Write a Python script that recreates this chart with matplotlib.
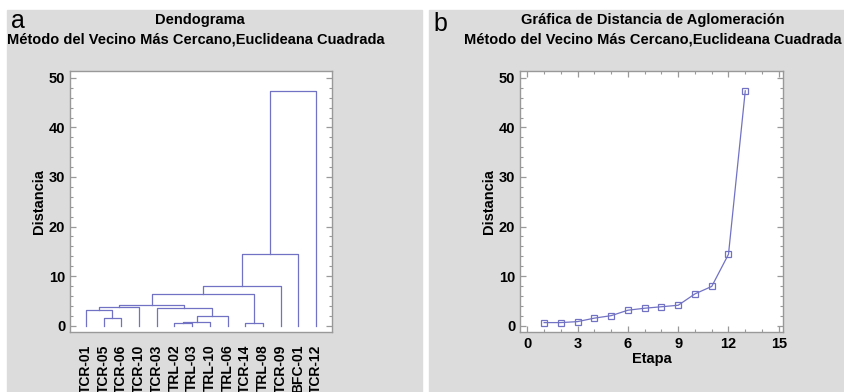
import numpy as np
import matplotlib
matplotlib.use("Agg")
import matplotlib.pyplot as plt
from matplotlib.patches import Rectangle
from matplotlib.ticker import MultipleLocator

plt.rcParams['font.family'] = ['Liberation Sans', 'DejaVu Sans']

# leaves in dendrogram order
leaf_labels = ['TCR-01', 'TCR-05', 'TCR-06', 'TCR-10', 'TCR-03', 'TRL-02', 'TRL-03',
               'TRL-10', 'TRL-06', 'TCR-14', 'TRL-08', 'TCR-09', 'BFC-01', 'TCR-12']
# merges: node ids < 14 are leaves, 14+ are clusters formed in order
merge_left = [5, 9, 14, 1, 16, 0, 4, 19, 21, 22, 23, 24, 25]
merge_right = [6, 10, 7, 2, 8, 17, 18, 3, 20, 15, 11, 12, 13]
distances = [0.6, 0.6, 0.8, 1.5, 2.0, 3.1, 3.5, 3.8, 4.1, 6.4, 7.9, 14.4, 47.4]
stages = np.arange(1, len(distances) + 1)

line_col = '#7272c4'
spine_col = '#999999'
bg_col = '#dcdcdc'

fig = plt.figure(figsize=(8.45, 3.92), dpi=100)
fig.patch.set_facecolor('white')
W, H = 845.0, 392.0
fig.patches.append(Rectangle((7 / W, 0), (422 - 7) / W, (392 - 10) / H,
                             transform=fig.transFigure, color=bg_col, zorder=-10))
fig.patches.append(Rectangle((429 / W, 0), (845 - 429) / W, (392 - 10) / H,
                             transform=fig.transFigure, color=bg_col, zorder=-10))


def style_axis(ax):
    for s in ax.spines.values():
        s.set_color(spine_col)
        s.set_linewidth(1.0)
    ax.tick_params(which='both', direction='in', color=spine_col, labelsize=10.5)
    ax.tick_params(which='major', length=4, width=0.9)
    ax.tick_params(which='minor', length=2.5, width=0.8)
    for t in ax.get_yticklabels() + ax.get_xticklabels():
        t.set_fontweight('bold')


# panel a: dendrogram
ax1 = fig.add_axes([70 / W, 1 - 332 / H, 262 / W, 261 / H])
xpos = {i: float(i + 1) for i in range(len(leaf_labels))}
ypos = {i: 0.0 for i in range(len(leaf_labels))}
for k, (a, b, h) in enumerate(zip(merge_left, merge_right, distances)):
    xa, xb = xpos[a], xpos[b]
    ax1.plot([xa, xa, xb, xb], [ypos[a], h, h, ypos[b]], color=line_col, lw=0.9)
    node = len(leaf_labels) + k
    xpos[node] = (xa + xb) / 2
    ypos[node] = h
ax1.set_xlim(0.1, 14.9)
ax1.set_ylim(-1.3, 51.4)
ax1.yaxis.set_major_locator(MultipleLocator(10))
ax1.yaxis.set_minor_locator(MultipleLocator(2))
ax1.set_xticks(np.arange(1, len(leaf_labels) + 1))
ax1.tick_params(axis='y', which='both', left=True, right=True)
style_axis(ax1)
ax1.set_xticklabels(leaf_labels, rotation=90, fontweight='bold', fontsize=10)
ax1.tick_params(axis='x', which='both', bottom=False, top=False, pad=9)
ax1.set_ylabel('Distancia', fontweight='bold', fontsize=10.5, labelpad=2)

# panel b: agglomeration distance
ax2 = fig.add_axes([520 / W, 1 - 332 / H, 263.3 / W, 261 / H])
ax2.plot(stages, distances, color=line_col, lw=0.9, marker='s', markersize=4.5,
         markerfacecolor='none', markeredgecolor=line_col, markeredgewidth=0.9)
ax2.set_xlim(-0.44, 15.27)
ax2.set_ylim(-1.3, 51.4)
ax2.xaxis.set_major_locator(MultipleLocator(3))
ax2.xaxis.set_minor_locator(MultipleLocator(1))
ax2.yaxis.set_major_locator(MultipleLocator(10))
ax2.yaxis.set_minor_locator(MultipleLocator(2))
ax2.tick_params(which='both', left=True, right=True, top=True, bottom=True)
style_axis(ax2)
ax2.set_ylabel('Distancia', fontweight='bold', fontsize=10.5, labelpad=2)
ax2.set_xlabel('Etapa', fontweight='bold', fontsize=10.5, labelpad=1)

# titles and panel letters
fig.text(200 / W, 1 - 20 / H, 'Dendograma', ha='center', va='center',
         fontweight='bold', fontsize=10.5)
fig.text(196 / W, 1 - 39 / H, 'Método del Vecino Más Cercano,Euclideana Cuadrada',
         ha='center', va='center', fontweight='bold', fontsize=10.5)
fig.text(653 / W, 1 - 20 / H, 'Gráfica de Distancia de Aglomeración', ha='center',
         va='center', fontweight='bold', fontsize=10.5)
fig.text(653 / W, 1 - 39 / H, 'Método del Vecino Más Cercano,Euclideana Cuadrada',
         ha='center', va='center', fontweight='bold', fontsize=10.5)
fig.text(11 / W, 1 - 28 / H, 'a', ha='left', va='baseline', fontsize=18)
fig.text(433 / W, 1 - 31 / H, 'b', ha='left', va='baseline', fontsize=18)

fig.savefig('out.png', dpi=100)
